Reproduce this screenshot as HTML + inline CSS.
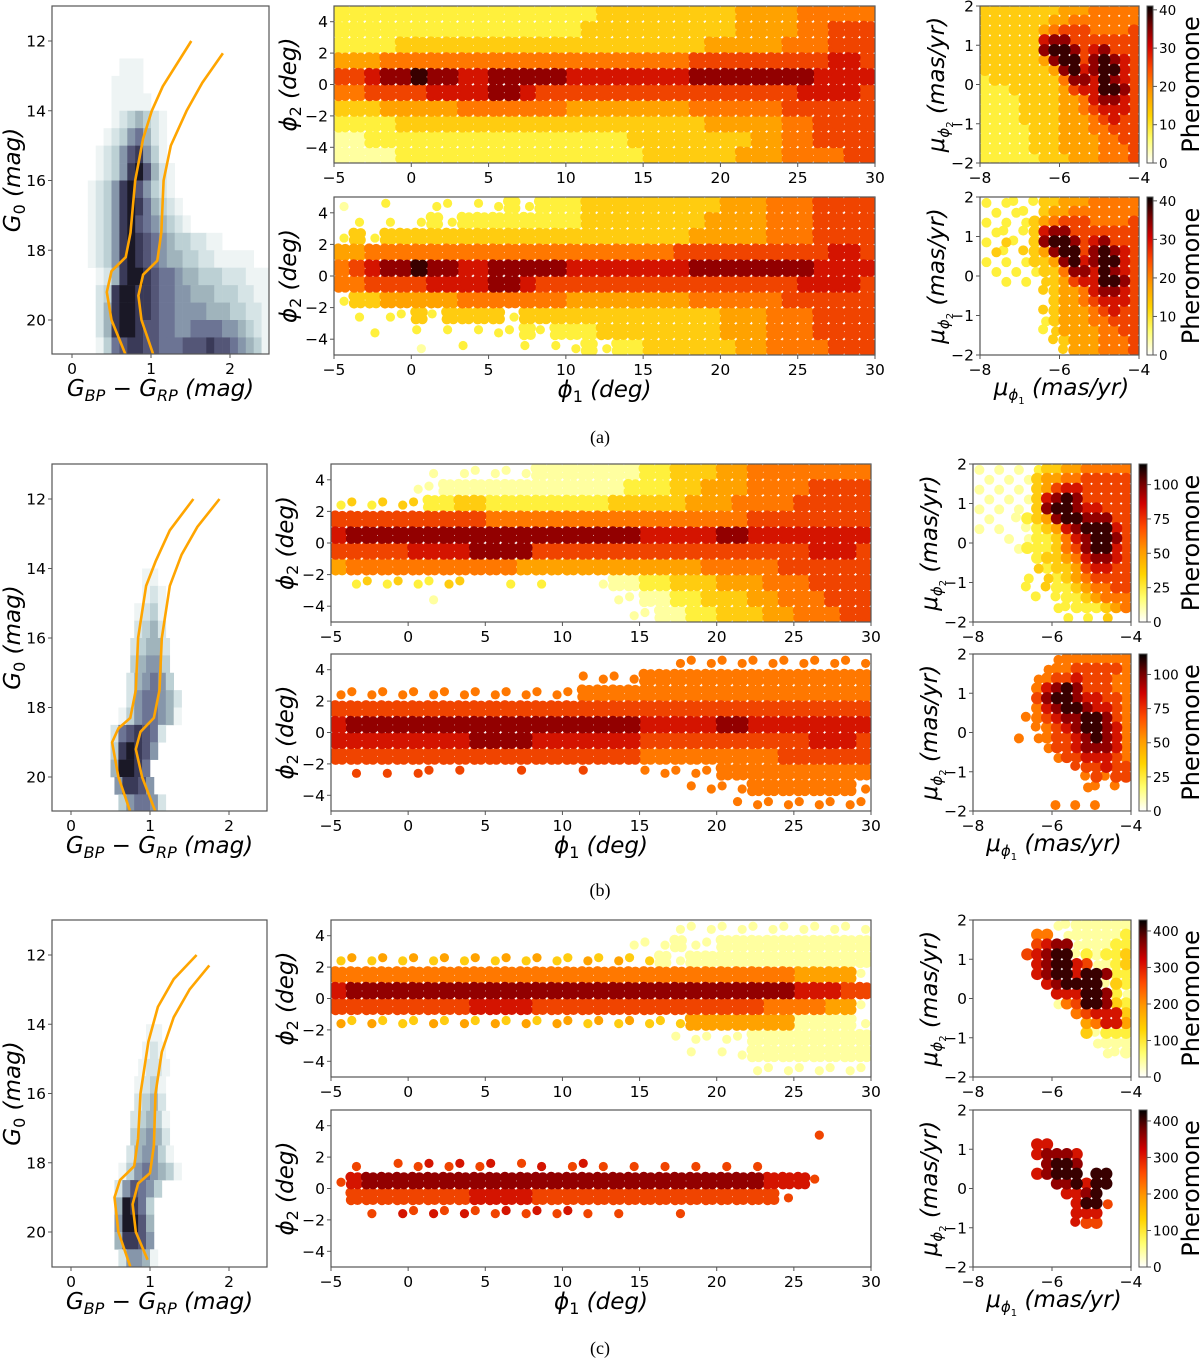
<!DOCTYPE html>
<html><head><meta charset="utf-8">
<style>
html,body{margin:0;padding:0;background:#fff;}
svg{display:block;font-family:"DejaVu Sans","Liberation Sans",sans-serif;}
</style></head>
<body>
<svg id="fig" width="1200" height="1359" viewBox="0 0 1200 1359" xmlns="http://www.w3.org/2000/svg">
<defs>
<linearGradient id="cbgrad" x1="0" y1="1" x2="0" y2="0">
<stop offset="0" stop-color="#ffffff"/><stop offset="0.15" stop-color="#ffff70"/><stop offset="0.3" stop-color="#ffd400"/><stop offset="0.45" stop-color="#ff9a00"/><stop offset="0.6" stop-color="#ff4a00"/><stop offset="0.75" stop-color="#d00000"/><stop offset="0.88" stop-color="#700000"/><stop offset="1" stop-color="#000000"/>
</linearGradient>
</defs>
</svg>
<script>
// ---------- axis ticks ----------
const phi1Ticks = [-5,0,5,10,15,20,25,30];
const phi2Ticks = [-4,-2,0,2,4];
const pmxTicks = [-8,-6,-4];
const pmyTicks = [-2,-1,0,1,2];
const cmdXTicks = [0,1,2];
const cmdYTicks = [12,14,16,18,20];
const cbTicksA = [0,10,20,30,40];
const cbTicksB = [0,25,50,75,100];
const cbTicksC = [0,100,200,300,400];
const cbMaxes = [41,115,430];

// ---------- phi1/phi2 density grids (cols phi1 -5..30 step 1, rows phi2 5..-5 step 1) ----------
const midATop = [
"22222 22222 22222 22333 33333 34444 55555",
"22222 22222 22222 23333 33333 34444 55666",
"22223 33333 33333 33333 33334 44445 55666",
"44455 55555 55555 55555 55566 66666 66776",
"66788 98877 88888 77777 77788 88888 87777",
"55666 67777 88766 66666 66666 66666 77776",
"33344 44455 55555 44444 44455 55556 66666",
"22223 33333 33333 33333 33334 44445 56666",
"11222 22222 22222 22223 33333 33445 56666",
"11112 22222 22222 22222 33333 34445 55566"];
const midABot = [
"a..b. .bb.b b2b22 23333 33333 44455 56666",
".b.b. b2b22 22222 23333 33334 44455 56666",
"b3b33 33333 33333 33333 33344 44455 56666",
"44555 55555 55555 55555 55666 66666 66776",
"56788 98877 88888 77777 77788 88888 87777",
"55666 67777 88766 66666 66666 66666 77776",
"b3344 44455 55555 44444 44455 55556 66666",
".b.bb 3b333 3b333 33333 33333 44455 56666",
"..b.. b.b.b bb2b2 22333 33333 44455 56666",
"..... a..b. ..b.b b2b22 33333 34455 55666"];
const midBTop = [
"..... .a.aa aaa11 11111 22333 44555 55555",
"..... aa111 11111 11112 22334 44555 56666",
"bcbcc c2233 22222 22233 33344 45555 66666",
"66666 66666 55555 55555 55555 55666 66666",
"78888 88888 88888 88888 77777 88777 77777",
"66666 77778 88866 66666 66666 66666 67776",
"45555 55555 55444 44444 44445 55556 66666",
".bcbc bbcc. .b.b. ..a11 22333 44455 56666",
"..... .a... ..... ...aa 11223 33445 55666",
"..... ..... ..... ....a a1122 33344 55566"];
const midBBot = [
"..... ..... ..... ..... ..eee eeeee eeeee",
"..... ..... ..... .eeee 55555 55555 55555",
"eeeee eeeee eeeee e5555 55555 55555 55555",
"66666 66666 66666 66666 66666 66666 66666",
"78888 88888 88888 88888 77777 88777 77777",
"77777 77778 88877 77777 66666 66666 67776",
"66666 66666 66666 66666 55555 55556 66666",
".f.f. ff.f. ..f.. .f... eeeee 55555 55555",
"..... ..... ..... ..... ...ee ee555 5555e",
"..... ..... ..... ..... ..... .eeee eeeee"];
const midCTop = [
"..... ..... ..... ..... ..aaa aaaaa aaaaa",
"..... ..... ..... ....a aa1aa 11111 11111",
"cdcdc dcdcd cdcdc cdcdc c1a11 11111 11111",
"55555 55555 55555 55555 55555 55555 4444a",
"78888 88888 88888 88888 88888 88888 77766",
"66666 66667 77766 66666 66666 66655 5544a",
"dcdcc cdcdc dcdcd dcdcd ccc44 44444 1111a",
"..... ..... ..... ..... ..aaa aa111 11111",
"..... ..... ..... ..... ...a. aa111 11111",
"..... ..... ..... ..... ..... ..aaa aaaaa"];
const midCBot = [
"..... ..... ..... ..... ..... ..... .....",
"..... ..... ..... ..... ..... ..... .f...",
"..... ..... ..... ..... ..... ..... .....",
".f..f fgfgf g.fg. fgf.f .f.f. f.f.. .....",
"f7888 88888 88888 88888 88888 88877 7f...",
".6666 66667 77766 66666 66666 6666f .....",
"..f.g fgfgf fgfgf gf.f. ..f.. ..... .....",
"..... ..... ..... ..... ..... ..... .....",
"..... ..... ..... ..... ..... ..... .....",
"..... ..... ..... ..... ..... ..... ....."];

// ---------- proper-motion grids (cols mu1 -8..-4 step 0.25, rows mu2 2..-2 step 0.25) ----------
const pmATop = [
"3333333344455555","3333333445555555","3333334566655556","3333337886666666",
"3333338998678666","3333334899689876","3333333489789976","2333333358879876",
"2223333346779986","2222333344578876","2222333344567776","2222333344456766",
"2222233344455666","2222233344445566","2222233344445556","2222223334445556"];
const pmABot = [
"b.bb.b3344455555",".b.bb.3445555555","b.b.b34566655556",".bb.b37886666666",
"b.cb.38998678666",".cb.c34899689876","b.b.b33489789976",".b.b.b3358879876",
"..b.b.c346779986","......c344578876",".......344567776","......c344456766",
"......b344455666","......bc44445566",".......c34445556","........c4445556"];
const pmBTop = [
"a.a.a.b334455555",".a.a.a3445566666","a.a.a.3467766666",".a.a.a3789866666",
"a.a.a.3899877666",".a..a23489988866","a.a..a2347899976","...a.a2235789986",
"....a22235689976","......2334578876","......c233467766",".....b.c23456666",
".....b.c22345566","......b.b2234555","........bb222345",".........b.b.c.."];
const pmBBot = [
"........e5555555",".......e55666665","......e566766655","......5789866655",
"......6899877665","......5789987765",".....e5678899865","......e567899875",
"....e.e566789875",".......e66788875","........e6677765","..........f66766",
"...........e6e66","...........ee.e.","................","........e.e.e..."];
const pmCTop = [
"........aa111111","......55.a111112","......6788a11122",".....67899a21223",
"......789976a123","......7899799822",".......789999a32","........7779982a",
"........a5699832","..........567773","...........45774","...........3a222",
"............a111",".............aa1","................","................"];
const pmCBot = [
"................","................","................","......77........",
"......78887.....",".......8998.....","......78999.99..","........889799..",
".........7789...","..........799f..","..........777...","..........g66...",
"................","................","................","................"];

// ---------- CMD hexbin rows: "magTop|startColor|levels (step 0.1 in colour)" ----------
const cmdA = [
"12.5|0.6|111","13|0.5|1111","13.5|0.5|11111",
"14|0.5|1234321","14.5|0.4|12356421","15|0.3|123578531","15.5|0.3|1235897421",
"16|0.2|12358975321","16.5|0.2|123589864321","17|0.2|1235897654321",
"17.5|0.2|12358987654332211","18|0.2|123589876544332211111","18.5|0.3|1248998766544333222111",
"19|0.3|2389988766554443332211","19.5|0.3|2489988766555544433221",
"20|0.3|2489987766556666554321","20.5|0.3|1367887766677787765431"];
const cmdB = [
"14|0.9|11","14.5|0.9|121","15|0.8|1231","15.5|0.8|2342","16|0.75|23442","16.5|0.75|34553",
"17|0.7|245653","17.5|0.7|2566542","18|0.6|13566541","18.5|0.5|2678762","19|0.5|389875",
"19.5|0.5|49986","20|0.55|58875","20.5|0.6|356652"];
const cmdC = [
"14|0.95|11","14.5|0.9|121","15|0.85|1221","15.5|0.8|1231","16|0.8|2342","16.5|0.75|23431",
"17|0.75|34542","17.5|0.7|245531","18|0.6|13565431","18.5|0.55|257653","19|0.55|49863",
"19.5|0.55|59974","20|0.55|48875","20.5|0.6|25541"];

// ---------- isochrones (colour, mag) ----------
const isoALeftC = [0.68,0.5,0.44,0.5,0.68,0.74,0.8,0.9,1.01,1.15,1.51];
const isoALeftM = [21,20,19.2,18.6,18.2,17.5,16,14.8,14,13.3,12.0];
const isoARightC = [1.03,0.88,0.84,0.9,1.08,1.13,1.16,1.25,1.45,1.65,1.91];
const isoARightM = [21,20,19.3,18.7,18.3,17.5,16,15,14,13.2,12.35];
const isoBLeftC = [0.75,0.6,0.52,0.6,0.75,0.82,0.85,0.95,1.07,1.25,1.55];
const isoBLeftM = [21,20,19,18.6,18.3,17.5,16,14.5,13.8,12.9,12.0];
const isoBRightC = [1.07,0.9,0.82,0.88,1.05,1.12,1.15,1.25,1.4,1.6,1.88];
const isoBRightM = [21,20,19.2,18.7,18.3,17.5,16,14.5,13.6,12.8,12.0];
const isoCLeftC = [0.75,0.6,0.55,0.62,0.8,0.85,0.88,0.98,1.1,1.3,1.59];
const isoCLeftM = [21,20,19,18.5,18.1,17.3,16,14.5,13.5,12.7,12.0];
const isoCRightC = [0.97,0.82,0.78,0.85,1.0,1.05,1.07,1.15,1.3,1.5,1.75];
const isoCRightM = [20.8,20,19.2,18.6,18.3,17.5,16,14.8,13.8,13.0,12.3];

// ---------- rendering ----------
const NS = 'http://www.w3.org/2000/svg';
const svg = document.getElementById('fig');
const HOT = ['#ffffff','#ffffa0','#fff03c','#ffcc10','#ffa200','#ff7800','#f04400','#d41400','#920000','#380000'];
const GRAY = ['#ffffff','#eef4f4','#d6e4e6','#bcd0d4','#a0b4bc','#8696aa','#6c7494','#545677','#3a3a58','#1a1826'];
let clipId = 0;

function el(tag, parent, name) {
  const e = document.createElementNS(NS, tag);
  
  
  parent.appendChild(e);
  return e;
}
function setA(e, o) { for (const k in o) e.setAttribute(k, o[k]); return e; }
function txt(parent, name, x, y, s, size, anchor) {
  const t = el('text', parent, name);
  setA(t, {x: x, y: y, 'font-size': size, 'text-anchor': anchor || 'middle', fill: '#000'});
  t.textContent = s;
  return t;
}
function fmt(v) { return v < 0 ? '\u2212' + Math.abs(v) : String(v); }
function clipFor(L, T, W, H) {
  const id = 'cp' + (clipId++);
  const cp = el('clipPath', svg, 'clip-region');
  cp.setAttribute('id', id);
  const r = el('rect', cp, 'clip-rect');
  setA(r, {x: L, y: T, width: W, height: H});
  return id;
}
function frame(g, L, T, W, H) {
  const r = el('rect', g, 'axes-frame');
  setA(r, {x: L, y: T, width: W, height: H, fill: 'none', stroke: '#555', 'stroke-width': 1.2});
}
function xTicks(g, vals, sx, B) {
  vals.forEach(v => {
    const x = sx(v);
    const l = el('line', g, 'x-tick');
    setA(l, {x1: x, x2: x, y1: B, y2: B + 4, stroke: '#555', 'stroke-width': 1});
    txt(g, 'x-tick-label', x, B + 20, fmt(v), 15.5);
  });
}
function yTicks(g, vals, sy, L) {
  vals.forEach(v => {
    const y = sy(v);
    const l = el('line', g, 'y-tick');
    setA(l, {x1: L - 4, x2: L, y1: y, y2: y, stroke: '#555', 'stroke-width': 1});
    txt(g, 'y-tick-label', L - 6, y + 5.5, fmt(v), 15.5, 'end');
  });
}
function parseCell(ch) {
  if (ch === '.' || ch === ' ') return null;
  if (ch >= '0' && ch <= '9') return {lev: +ch, sparse: false};
  return {lev: ch.charCodeAt(0) - 96, sparse: true};
}
function drawGrid(g, rows, nCols, xLo, xHi, yHi, yLo, sx, sy, name, dense) {
  const cells = [];
  rows.forEach((row, ri) => {
    const s = row.replace(/ /g, '');
    for (let ci = 0; ci < nCols; ci++) {
      const c = parseCell(s[ci] || '.');
      if (!c || c.lev === 0) continue;
      cells.push({ri: ri, ci: ci, lev: c.lev, sparse: c.sparse});
    }
  });
  cells.sort((a, b) => a.lev - b.lev);
  const dx = (xHi - xLo) / nCols, dy = (yHi - yLo) / rows.length;
  cells.forEach(c => {
    const x0 = sx(xLo + c.ci * dx), x1 = sx(xLo + (c.ci + 1) * dx);
    const y0 = sy(yHi - c.ri * dy), y1 = sy(yHi - (c.ri + 1) * dy);
    const w = x1 - x0, h = y1 - y0;
    const col = HOT[c.lev];
    let pts, r;
    if (c.sparse) {
      pts = ((c.ri + c.ci) % 2) ? [[0.35, 0.4]] : [[0.65, 0.6]];
      r = dense ? 5 : 4.6;
    } else if (dense) {
      pts = [[0.5, 0.5]];
      r = Math.max(w, h) * 0.62;
    } else {
      pts = [[0.27, 0.27], [0.73, 0.3], [0.3, 0.73], [0.72, 0.72], [0.5, 0.5]];
      r = Math.min(w, h) * 0.34;
    }
    pts.forEach(p => {
      const ci = el('circle', g, name);
      setA(ci, {cx: x0 + p[0] * w, cy: y0 + p[1] * h, r: r, fill: col});
    });
  });
}

const ROWS = [
 {cap:'(a)', capY:443, cmd:{L:52,R:269,T:6,B:354,x0:72,x1:151,y12:41,y20:320},
  mid:{L:334,R:875,T1:6,B1:163,T2:197,B2:355}, pm:{L:980,R:1139}, cb:{L:1147,R:1153},
  cbTicks:cbTicksA, cbMax:cbMaxes[0], cmdRows:cmdA, iso:[[isoALeftC,isoALeftM],[isoARightC,isoARightM]],
  midGrids:[midATop,midABot], pmGrids:[pmATop,pmABot], key:'a'},
 {cap:'(b)', capY:896, cmd:{L:52,R:267,T:464,B:811,x0:71,x1:150,y12:499,y20:777},
  mid:{L:331,R:871,T1:464,B1:622,T2:654,B2:811}, pm:{L:973,R:1131}, cb:{L:1139,R:1147},
  cbTicks:cbTicksB, cbMax:cbMaxes[1], cmdRows:cmdB, iso:[[isoBLeftC,isoBLeftM],[isoBRightC,isoBRightM]],
  midGrids:[midBTop,midBBot], pmGrids:[pmBTop,pmBBot], key:'b'},
 {cap:'(c)', capY:1354, cmd:{L:52,R:267,T:920,B:1267,x0:71,x1:150,y12:955,y20:1232},
  mid:{L:331,R:871,T1:920,B1:1077,T2:1110,B2:1267}, pm:{L:973,R:1131}, cb:{L:1139,R:1147},
  cbTicks:cbTicksC, cbMax:cbMaxes[2], cmdRows:cmdC, iso:[[isoCLeftC,isoCLeftM],[isoCRightC,isoCRightM]],
  midGrids:[midCTop,midCBot], pmGrids:[pmCTop,pmCBot], key:'c'}
];

ROWS.forEach(R => {
  const rg = el('g', svg, 'row-' + R.key);
  // ---- CMD panel ----
  const c = R.cmd;
  const cg = el('g', rg, 'cmd-panel');
  const sxC = v => c.x0 + (c.x1 - c.x0) * v;
  const syC = m => c.y12 + (c.y20 - c.y12) * (m - 12) / 8;
  const cid = clipFor(c.L, c.T, c.R - c.L, c.B - c.T);
  const cin = el('g', cg, 'cmd-plot-area');
  cin.setAttribute('clip-path', 'url(#' + cid + ')');
  R.cmdRows.forEach(row => {
    const parts = row.split('|');
    const mag = +parts[0], start = +parts[1], levs = parts[2];
    for (let i = 0; i < levs.length; i++) {
      const L = +levs[i];
      if (!L) continue;
      const x0 = sxC(start + i * 0.1), x1 = sxC(start + (i + 1) * 0.1);
      const y0 = syC(mag), y1 = syC(mag + 0.5);
      const r = el('rect', cin, 'hexbin-cell');
      setA(r, {x: x0, y: y0, width: x1 - x0 + 0.3, height: y1 - y0 + 0.3, fill: GRAY[L]});
    }
  });
  R.iso.forEach((iso, k) => {
    const p = el('polyline', cin, k ? 'isochrone-right' : 'isochrone-left');
    const pts = iso[0].map((cv, i) => sxC(cv).toFixed(1) + ',' + syC(iso[1][i]).toFixed(1)).join(' ');
    setA(p, {points: pts, fill: 'none', stroke: '#ffa500', 'stroke-width': 2.6, 'stroke-linejoin': 'round'});
  });
  frame(cg, c.L, c.T, c.R - c.L, c.B - c.T);
  xTicks(cg, cmdXTicks, sxC, c.B);
  yTicks(cg, cmdYTicks, syC, c.L);
  const xl = el('text', cg, 'cmd-x-axis-title');
  setA(xl, {x: (c.L + c.R) / 2, y: c.B + 42, 'font-size': 23, 'text-anchor': 'middle', 'font-style': 'italic'});
  xl.innerHTML = 'G<tspan font-size="16" dy="5">BP</tspan><tspan dy="-5" font-style="normal"> \u2212 </tspan>G<tspan font-size="16" dy="5">RP</tspan><tspan dy="-5"> (mag)</tspan>';
  const yl = el('text', cg, 'cmd-y-axis-title');
  const ycen = (c.T + c.B) / 2;
  setA(yl, {x: 20, y: ycen, 'font-size': 23, 'text-anchor': 'middle', 'font-style': 'italic', transform: 'rotate(-90 20 ' + ycen + ')'});
  yl.innerHTML = 'G<tspan font-size="16" dy="5" font-style="normal">0</tspan><tspan dy="-5"> (mag)</tspan>';

  // ---- middle (phi1, phi2) panels ----
  const m = R.mid;
  [[m.T1, m.B1], [m.T2, m.B2]].forEach((tb, k) => {
    const T = tb[0], B = tb[1];
    const pg = el('g', rg, k ? 'sky-panel-bottom' : 'sky-panel-top');
    const sx = v => m.L + (v + 5) / 35 * (m.R - m.L);
    const sy = v => T + (5 - v) / 10 * (B - T);
    const id = clipFor(m.L, T, m.R - m.L, B - T);
    const inner = el('g', pg, 'sky-plot-area');
    inner.setAttribute('clip-path', 'url(#' + id + ')');
    drawGrid(inner, R.midGrids[k], 35, -5, 30, 5, -5, sx, sy, 'star-point', false);
    frame(pg, m.L, T, m.R - m.L, B - T);
    xTicks(pg, phi1Ticks, sx, B);
    yTicks(pg, phi2Ticks, sy, m.L);
    const yl2 = el('text', pg, 'phi2-axis-title');
    const yc = (T + B) / 2, xx = m.L - 38;
    setA(yl2, {x: xx, y: yc, 'font-size': 23, 'text-anchor': 'middle', transform: 'rotate(-90 ' + xx + ' ' + yc + ')'});
    yl2.innerHTML = '<tspan font-style="italic">\u03d5</tspan><tspan font-size="16" dy="5">2</tspan><tspan dy="-5" font-style="italic"> (deg)</tspan>';
    if (k === 1) {
      const xl2 = el('text', pg, 'phi1-axis-title');
      setA(xl2, {x: (m.L + m.R) / 2, y: B + 42, 'font-size': 23, 'text-anchor': 'middle'});
      xl2.innerHTML = '<tspan font-style="italic">\u03d5</tspan><tspan font-size="16" dy="5">1</tspan><tspan dy="-5" font-style="italic"> (deg)</tspan>';
    }
  });

  // ---- proper-motion panels + colorbars ----
  const P = R.pm;
  [[m.T1, m.B1], [m.T2, m.B2]].forEach((tb, k) => {
    const T = tb[0], B = tb[1];
    const pg = el('g', rg, k ? 'pm-panel-bottom' : 'pm-panel-top');
    const sx = v => P.L + (v + 8) / 4 * (P.R - P.L);
    const sy = v => T + (2 - v) / 4 * (B - T);
    const id = clipFor(P.L, T, P.R - P.L, B - T);
    const inner = el('g', pg, 'pm-plot-area');
    inner.setAttribute('clip-path', 'url(#' + id + ')');
    drawGrid(inner, R.pmGrids[k], 16, -8, -4, 2, -2, sx, sy, 'pm-point', true);
    frame(pg, P.L, T, P.R - P.L, B - T);
    xTicks(pg, pmxTicks, sx, B);
    yTicks(pg, pmyTicks, sy, P.L);
    const yl3 = el('text', pg, 'mu-phi2-axis-title');
    const yc = (T + B) / 2, xx = P.L - 36;
    setA(yl3, {x: xx, y: yc, 'font-size': 23, 'text-anchor': 'middle', transform: 'rotate(-90 ' + xx + ' ' + yc + ')'});
    yl3.innerHTML = '<tspan font-style="italic">\u03bc</tspan><tspan font-size="15" dy="5" font-style="italic">\u03d5</tspan><tspan font-size="10" dy="4">2</tspan><tspan dy="-9" font-style="italic"> (mas/yr)</tspan>';
    if (k === 1) {
      const xl3 = el('text', pg, 'mu-phi1-axis-title');
      setA(xl3, {x: (P.L + P.R) / 2 + 2, y: B + 40, 'font-size': 23, 'text-anchor': 'middle'});
      xl3.innerHTML = '<tspan font-style="italic">\u03bc</tspan><tspan font-size="15" dy="5" font-style="italic">\u03d5</tspan><tspan font-size="10" dy="4">1</tspan><tspan dy="-9" font-style="italic"> (mas/yr)</tspan>';
    }
    // colorbar
    const cb = R.cb;
    const cbg = el('g', pg, 'colorbar');
    const bar = el('rect', cbg, 'colorbar-gradient');
    setA(bar, {x: cb.L, y: T, width: cb.R - cb.L, height: B - T, fill: 'url(#cbgrad)', stroke: '#555', 'stroke-width': 1});
    const sc = v => B - v / R.cbMax * (B - T);
    R.cbTicks.forEach(v => {
      const y = sc(v);
      const l = el('line', cbg, 'colorbar-tick');
      setA(l, {x1: cb.R, x2: cb.R + 4, y1: y, y2: y, stroke: '#555'});
      txt(cbg, 'colorbar-tick-label', cb.R + 6, y + 5, String(v), 13.5, 'start');
    });
    const pl = el('text', cbg, 'colorbar-title');
    const px = 1199;
    setA(pl, {x: px, y: yc, 'font-size': 24, 'text-anchor': 'middle', transform: 'rotate(-90 ' + px + ' ' + yc + ')'});
    pl.textContent = 'Pheromone';
  });

  const cap = el('text', rg, 'panel-caption');
  setA(cap, {x: 600, y: R.capY, 'font-size': 18, 'text-anchor': 'middle', 'font-family': '"Liberation Serif", serif'});
  cap.textContent = R.cap;
});
</script>
</body></html>
